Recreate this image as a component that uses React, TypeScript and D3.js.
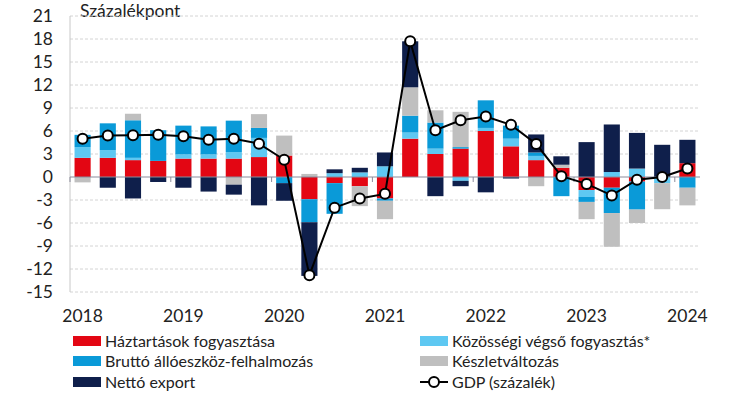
import React from "react";
import * as d3 from "d3";

// quarters 2018 Q1 .. 2024 Q1
const years = ["2018", "2019", "2020", "2021", "2022", "2023", "2024"];
const quarters = years.flatMap(y => (y === "2024" ? [`${y} Q1`] : [1, 2, 3, 4].map(q => `${y} Q${q}`)));

const haztartas = [2.5, 2.5, 2.2, 2.1, 2.4, 2.4, 2.4, 2.6, 2.8, -2.9, -0.8, -1.2, -2.8, 5.0, 3.0, 3.7, 6.0, 4.0, 2.2, 1.2, -1.7, -1.4, -0.6, 0, 1.8];
const kozossegi = [1.4, 1.0, 0.3, 0, 0.55, 0.55, 0.85, 2.5, 0, 0, 0.5, 0.6, 1.4, 0.8, 0.7, -0.5, 0.4, 1.0, 0.55, 0, -0.9, 0.65, 1.1, -0.8, 0];
const brutto = [1.6, 3.5, 4.9, 4.0, 3.75, 3.65, 4.1, 1.3, -0.8, -3.0, -4.0, 0, -0.3, 2.2, 3.4, 0.2, 3.6, 1.7, 0.45, -2.5, -0.65, -3.3, -3.65, 0, -1.4];
const keszlet = [-0.7, 0, 0.85, 0, 0, 0, -1.0, 1.8, 2.6, 0.4, 0, -2.6, -2.4, 3.7, 1.6, 4.6, 0, 0, -1.2, 0.4, -2.25, -4.4, -1.75, -3.4, -2.3];
const netto = [0, -1.4, -2.8, -0.65, -1.4, -1.9, -1.3, -3.7, -2.3, -7.0, 0.5, 0.6, 1.8, 6.0, -2.5, -0.7, -2.0, -0.2, 2.35, 1.1, 4.55, 6.2, 4.65, 4.2, 3.05];
const gdp = [5.0, 5.4, 5.45, 5.5, 5.3, 4.85, 5.0, 4.35, 2.25, -12.8, -4.0, -2.8, -2.2, 17.7, 6.1, 7.4, 7.9, 6.8, 4.3, 0.1, -0.9, -2.4, -0.35, 0.0, 1.1];

const yTicks = [21, 18, 15, 12, 9, 6, 3, 0, -3, -6, -9, -12, -15];

const series = [
  { key: "h", name: "Háztartások fogyasztása", color: "#e30613", values: haztartas },
  { key: "k", name: "Közösségi végső fogyasztás*", color: "#5ec8f2", values: kozossegi },
  { key: "b", name: "Bruttó állóeszköz-felhalmozás", color: "#0a9ad8", values: brutto },
  { key: "s", name: "Készletváltozás", color: "#bfbfbf", values: keszlet },
  { key: "n", name: "Nettó export", color: "#0f1f4b", values: netto },
];

const FONT = "Lato, 'Liberation Sans', sans-serif";

export default function App() {
  const width = 730, height = 399;
  const left = 70, right = 700, top = 16, bottom = 292;

  const x = d3.scaleBand<string>().domain(quarters).range([left, right]).paddingInner(0.36).paddingOuter(0.18);
  const y = d3.scaleLinear().domain([-15, 21]).range([bottom, top]);

  const rows = quarters.map((q, i) => {
    const r: any = { q };
    series.forEach(s => (r[s.key] = s.values[i]));
    return r;
  });
  const stacked = d3.stack<any>().keys(series.map(s => s.key)).offset(d3.stackOffsetDiverging)(rows);

  const cx = (q: string) => (x(q) as number) + x.bandwidth() / 2;
  const line = d3.line<number>().x((_, i) => cx(quarters[i])).y(d => y(d));

  const legendItems = [
    { s: series[0], lx: 73, ly: 341 },
    { s: series[2], lx: 73, ly: 361 },
    { s: series[4], lx: 73, ly: 382 },
    { s: series[1], lx: 420, ly: 341 },
    { s: series[3], lx: 420, ly: 361 },
  ];

  return (
    <svg width={width} height={height} style={{ position: "absolute", left: 0, top: 0, background: "#fff" }} fontFamily={FONT}>
      <text x={80} y={17} fontSize={17.5} fill="#222">Százalékpont</text>

      {/* grid */}
      {yTicks.filter(t => t !== 0).map(t => (
        <line key={t} x1={left} x2={right} y1={y(t)} y2={y(t)} stroke="#d4d4d4" strokeDasharray="3,2" />
      ))}
      {yTicks.map(t => (
        <text key={"l" + t} x={53} y={y(t)} dy="0.36em" textAnchor="end" fontSize={17.5} fill="#222">{t}</text>
      ))}
      <line x1={left} x2={left} y1={top} y2={bottom} stroke="#c8c8c8" />

      {/* bars */}
      {stacked.map((layer, li) => (
        <g key={layer.key} fill={series[li].color}>
          {layer.map((d, i) => (
            d[1] - d[0] === 0 ? null :
            <rect key={i} x={x(quarters[i])} width={x.bandwidth()} y={y(Math.max(d[0], d[1]))}
              height={Math.abs(y(d[0]) - y(d[1]))} />
          ))}
        </g>
      ))}

      {/* zero axis + year ticks */}
      <line x1={left} x2={right} y1={y(0)} y2={y(0)} stroke="#8c8c9c" strokeWidth={1.2} />
      {years.map((yr, i) => {
        const tx = left + i * 4 * x.step();
        return <line key={yr} x1={tx} x2={tx} y1={y(0)} y2={y(0) + 5} stroke="#8c8c9c" />;
      })}
      {years.map(yr => (
        <text key={"y" + yr} x={cx(`${yr} Q1`)} y={322} textAnchor="middle" fontSize={17.5} fill="#222">{yr}</text>
      ))}

      {/* GDP */}
      <path d={line(gdp) || ""} fill="none" stroke="#000" strokeWidth={2} />
      {gdp.map((v, i) => (
        <circle key={i} cx={cx(quarters[i])} cy={y(v)} r={5} fill="#fff" stroke="#000" strokeWidth={2} />
      ))}

      {/* legend */}
      {legendItems.map(({ s, lx, ly }) => (
        <g key={s.key}>
          <rect x={lx} y={ly - 5} width={28} height={10} fill={s.color} />
          <text x={lx + 32} y={ly} dy="0.36em" fontSize={16} fill="#222">{s.name}</text>
        </g>
      ))}
      <g>
        <line x1={420} x2={448} y1={382} y2={382} stroke="#000" strokeWidth={2} />
        <circle cx={434} cy={382} r={5} fill="#fff" stroke="#000" strokeWidth={2} />
        <text x={452} y={382} dy="0.36em" fontSize={16} fill="#222">GDP (százalék)</text>
      </g>
    </svg>
  );
}
